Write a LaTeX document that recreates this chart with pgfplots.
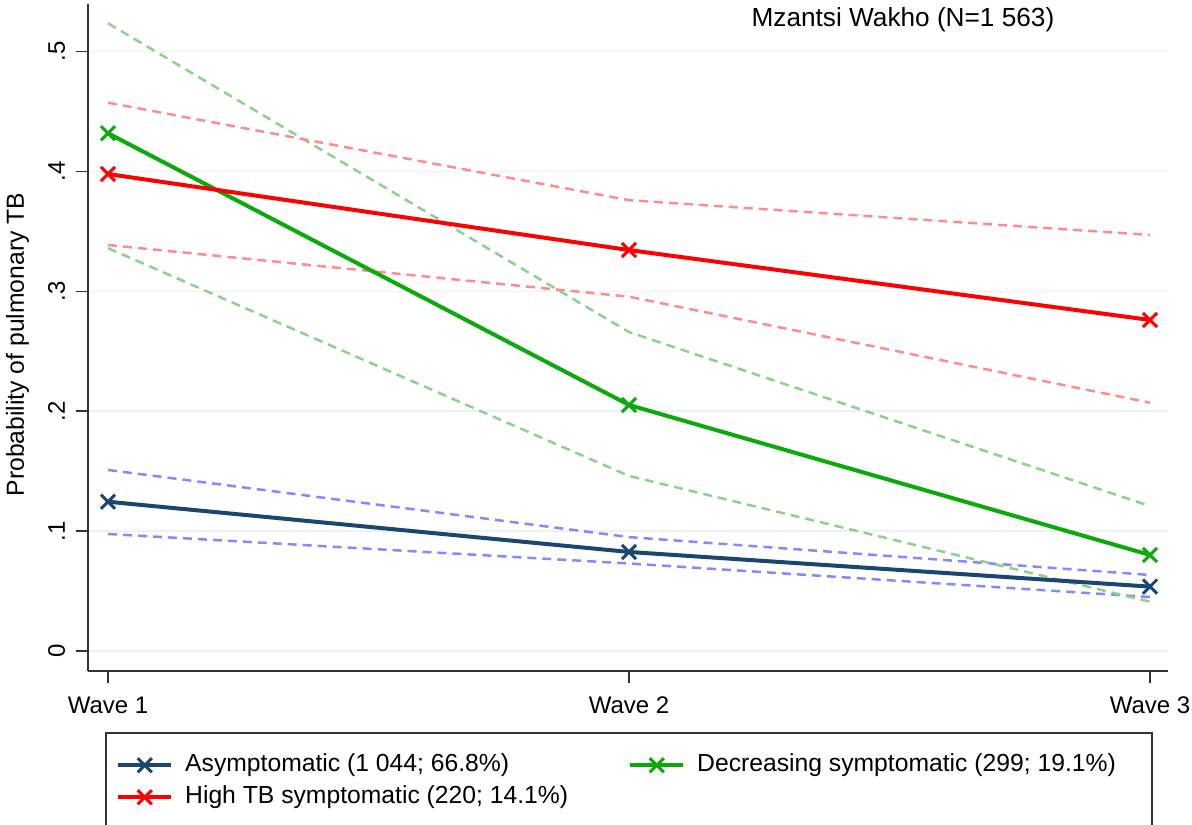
\documentclass[border=0pt]{standalone}
\usepackage{pgfplots}
\pgfplotsset{compat=1.18}
\usepackage{fontspec}
\setmainfont{Liberation Sans}
\definecolor{stnavy}{RGB}{26,71,111}
\definecolor{stred}{RGB}{255,0,0}
\definecolor{stgreen}{RGB}{10,170,10}
\definecolor{cired}{RGB}{255,140,140}
\definecolor{cigreen}{RGB}{140,210,140}
\definecolor{ciblue}{RGB}{135,135,255}
\definecolor{gridc}{RGB}{234,242,243}
\newcommand\fs{\fontsize{24bp}{28bp}\selectfont}
\newcommand\fl{\fontsize{24.7bp}{28bp}\selectfont}
\begin{document}
\begin{tikzpicture}
\useasboundingbox (0,0) rectangle (1192bp,-825bp);
\begin{axis}[
 at={(88bp,-671bp)}, anchor=south west,
 scale only axis, width=1080bp, height=667bp,
 xmin=-0.03839, xmax=2.03455, ymin=-0.01668, ymax=0.5396,
 axis x line*=bottom, axis y line*=left,
 axis line style={black!80, line width=1.5bp, -},
 xtick={0,1,2}, xticklabels={Wave 1,Wave 2,Wave 3},
 ytick={0,0.1,0.2,0.3,0.4,0.5}, yticklabels={0,.1,.2,.3,.4,.5},
 tick align=outside, major tick length=12bp,
 tick style={black!80, line width=1.5bp},
 ymajorgrids, grid style={gridc, line width=1.5bp},
 ticklabel style={font=\fs, inner sep=0pt},
 yticklabel style={rotate=90, anchor=base, yshift=11bp},
 xticklabel style={anchor=north, yshift=-14bp},
 ylabel={Probability of pulmonary TB},
 ylabel style={font=\fl, inner sep=0pt, at={(axis description cs:-0.0593,0.4895)}, anchor=base},
 title={Mzantsi Wakho (N=1 563)},
 title style={font=\fontsize{26.2bp}{30bp}\selectfont, inner sep=0pt, at={(axis description cs:0.7546,0.958)}, anchor=base},
 legend columns=2,
 legend cell align=left,
 legend image code/.code={\draw[mark repeat=2,mark phase=2] plot coordinates {(0bp,0bp)(26.5bp,0bp)(53bp,0bp)};},
 legend style={at={(axis description cs:0.01667,-0.09295)}, anchor=north west, draw=none, fill=none,
   inner xsep=10bp, inner ysep=21bp, font=\fl, row sep=10bp,
   nodes={inner sep=0pt, text height=17bp, text depth=5bp},
   /tikz/every odd column/.append style={column sep=12bp},
   /tikz/every even column/.append style={column sep=60bp}},
 ci/.style={line width=2.5bp, dash pattern=on 9bp off 6bp, forget plot},
 main/.style={line width=4bp, mark=x, mark size=10bp, mark options={solid, line width=3bp}},
]
% confidence bounds
\addplot[ci, ciblue] coordinates {(0,0.151) (1,0.095) (2,0.0634)};
\addplot[ci, ciblue] coordinates {(0,0.0976) (1,0.073) (2,0.045)};
\addplot[ci, cigreen] coordinates {(0,0.5235) (1,0.266) (2,0.1209)};
\addplot[ci, cigreen] coordinates {(0,0.336) (1,0.146) (2,0.0411)};
\addplot[ci, cired] coordinates {(0,0.4573) (1,0.376) (2,0.347)};
\addplot[ci, cired] coordinates {(0,0.3386) (1,0.2955) (2,0.2071)};
% predicted probabilities
\addplot[main, stnavy] coordinates {(0,0.1245) (1,0.0826) (2,0.0537)};
\addlegendentry{Asymptomatic (1 044; 66.8\%)}
\addplot[main, stgreen] coordinates {(0,0.4318) (1,0.2052) (2,0.0801)};
\addlegendentry{Decreasing symptomatic (299; 19.1\%)}
\addplot[main, stred] coordinates {(0,0.3978) (1,0.3344) (2,0.2761)};
\addlegendentry{High TB symptomatic (220; 14.1\%)}
\end{axis}
\draw[black!80, line width=1.5bp] (106bp,-733bp) rectangle (1152bp,-870bp);
\end{tikzpicture}
\end{document}
